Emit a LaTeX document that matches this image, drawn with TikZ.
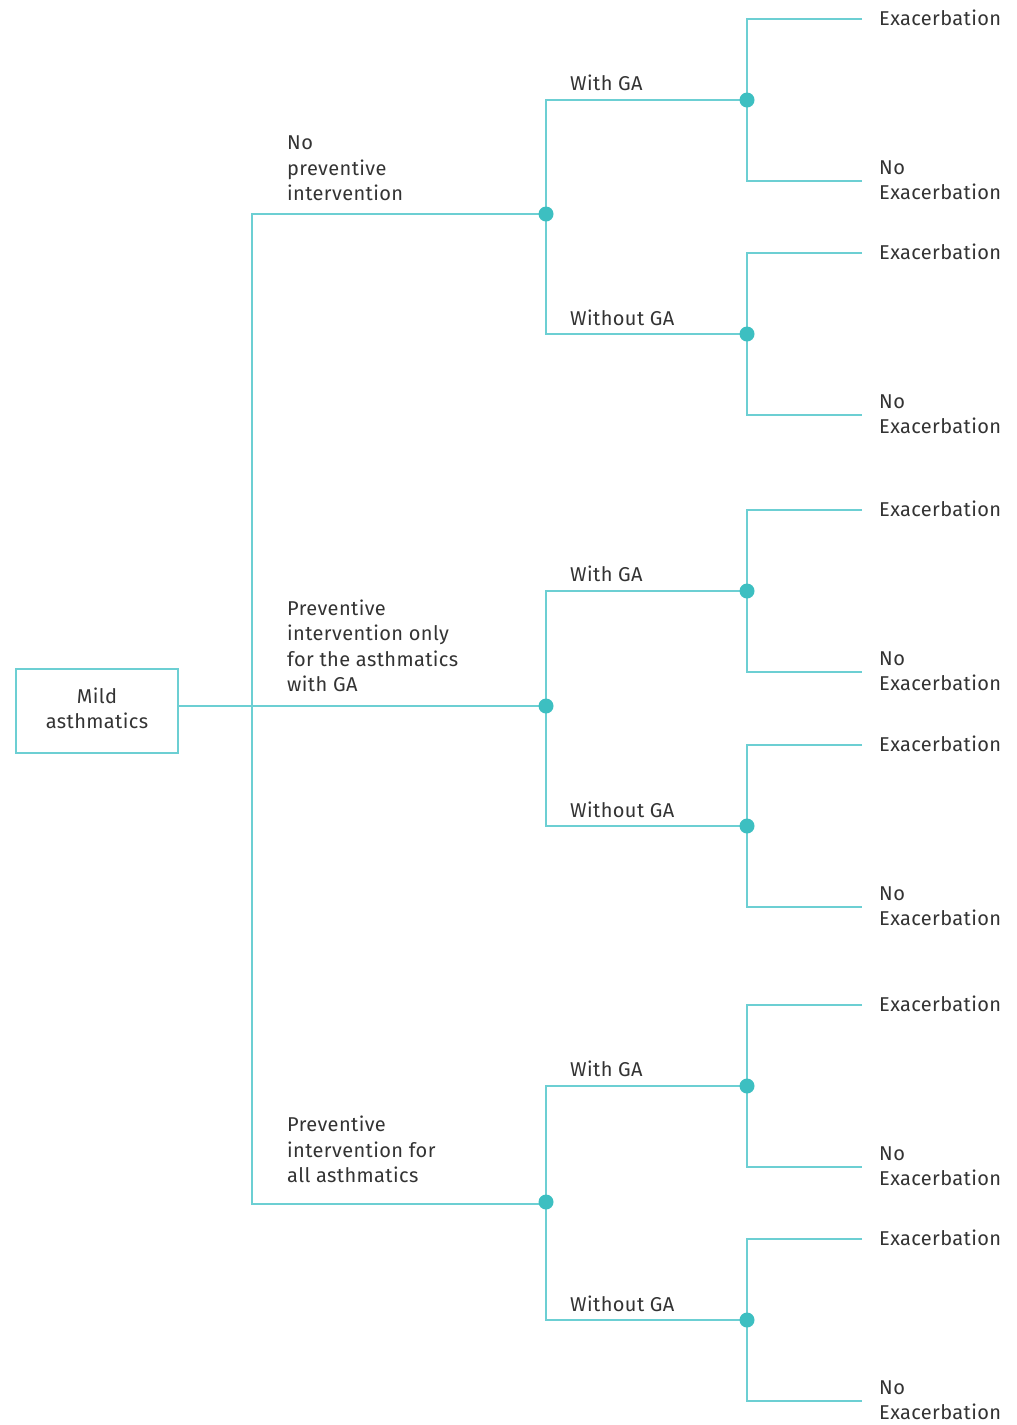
\documentclass[tikz,border=0pt]{standalone}
\usepackage{fontspec}
\setmainfont{Fira Sans}[LetterSpace=2]
\usetikzlibrary{backgrounds}
\definecolor{tline}{HTML}{6CCFD3}
\definecolor{tdot}{HTML}{3DBFC1}
\definecolor{txt}{HTML}{333333}
\begin{document}
\begin{tikzpicture}[x=1pt,y=-1pt,
  conn/.style={draw=tline,line width=1.6pt},
  dotnode/.style={circle,fill=tdot,inner sep=0pt,minimum size=15pt},
  lbl/.style={inner sep=0pt,align=left,text=txt,font=\fontsize{20}{25.5}\selectfont},
  rootbox/.style={draw=tline,line width=1.6pt,minimum width=162pt,minimum height=84pt,inner sep=0pt,align=center,text=txt,text depth=6pt,font=\fontsize{20}{25.5}\selectfont}]
\useasboundingbox (0,0) rectangle (1017,1425);
% root
\node[rootbox] (root) at (97,711) {Mild\\asthmatics};
% level-1 dots
\node[dotnode] (n1) at (546,214) {};
\node[dotnode] (n2) at (546,706) {};
\node[dotnode] (n3) at (546,1202) {};
\coordinate (t1) at (252,214);
\coordinate (t3) at (252,1204);
% level-2 dots
\node[dotnode] (n11) at (747,100) {};
\node[dotnode] (n12) at (747,334) {};
\node[dotnode] (n21) at (747,591) {};
\node[dotnode] (n22) at (747,826) {};
\node[dotnode] (n31) at (747,1086) {};
\node[dotnode] (n32) at (747,1320) {};
% leaf ends
\foreach \n/\y in {n11/100,n12/334,n21/591,n22/826,n31/1086,n32/1320}{
  \coordinate (\n a) at (862,\y-81);
  \coordinate (\n b) at (862,\y+81);
  \node[lbl,anchor=base west] (\n la) at (879,\y-81+6) {Exacerbation};
  \node[lbl,anchor=west] (\n lb) at (879,\y+80) {No\\Exacerbation};
}
% level-2 labels
\foreach \n in {n11,n21,n31}{
  \node[lbl,anchor=base west] (\n g) at ([yshift=10pt]570,0 |- \n) {With GA};
}
\foreach \n in {n12,n22,n32}{
  \node[lbl,anchor=base west] (\n g) at ([yshift=9pt]570,0 |- \n) {Without GA};
}
% level-1 labels
\node[lbl,anchor=south west] (l1) at (287,201) {No\\preventive\\intervention};
\node[lbl,anchor=south west] (l2) at (287,692) {Preventive\\intervention only\\for the asthmatics\\with GA};
\node[lbl,anchor=south west] (l3) at (287,1183) {Preventive\\intervention for\\all asthmatics};
\begin{scope}[on background layer]
  \draw[conn] (root.east |- n2) -- (n2.center);
  \draw[conn] (n1.center) -- (t1) -- (t3) -- (n3.center |- t3) -- (n3.center);
  \draw[conn] (n11.center) -| (n1.center) |- (n12.center);
  \draw[conn] (n21.center) -| (n2.center) |- (n22.center);
  \draw[conn] (n31.center) -| (n3.center) |- (n32.center);
  \foreach \n in {n11,n12,n21,n22,n31,n32}{
    \draw[conn] (\n a) -| (\n.center) |- (\n b);
  }
\end{scope}
\end{tikzpicture}
\end{document}
